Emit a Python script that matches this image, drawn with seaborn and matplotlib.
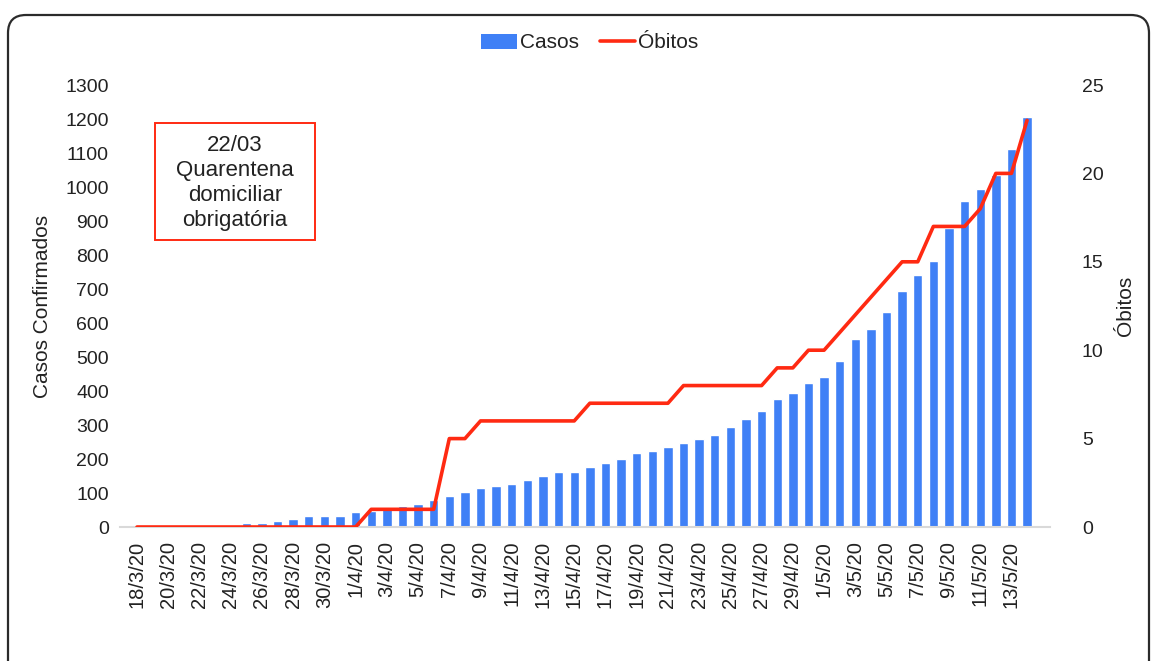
import numpy as np
import pandas as pd
import matplotlib
matplotlib.use("Agg")
import matplotlib.pyplot as plt
import matplotlib.transforms as mtransforms
import seaborn as sns
from matplotlib.patches import FancyBboxPatch, Rectangle, Patch
from matplotlib.lines import Line2D

datas = [
    "18/3/20", "19/3/20", "20/3/20", "21/3/20", "22/3/20", "23/3/20", "24/3/20",
    "25/3/20", "26/3/20", "27/3/20", "28/3/20", "29/3/20", "30/3/20", "31/3/20",
    "1/4/20", "2/4/20", "3/4/20", "4/4/20", "5/4/20", "6/4/20", "7/4/20", "8/4/20",
    "9/4/20", "10/4/20", "11/4/20", "12/4/20", "13/4/20", "14/4/20", "15/4/20",
    "16/4/20", "17/4/20", "18/4/20", "19/4/20", "20/4/20", "21/4/20", "22/4/20",
    "23/4/20", "24/4/20", "25/4/20", "26/4/20", "27/4/20", "28/4/20", "29/4/20",
    "30/4/20", "1/5/20", "2/5/20", "3/5/20", "4/5/20", "5/5/20", "6/5/20",
    "7/5/20", "8/5/20", "9/5/20", "10/5/20", "11/5/20", "12/5/20", "13/5/20", "14/5/20",
]

casos = [
    1, 1, 1, 2, 2, 3, 5,
    12, 13, 19, 25, 31, 31, 31, 43,
    47, 52, 61, 67, 78, 90, 102,
    114, 120, 126, 137, 149, 161, 161,
    177, 189, 200, 219, 225, 235, 247,
    259, 272, 294, 318, 341, 376, 394,
    425, 442, 489, 554, 583, 631, 695, 742,
    783, 879, 960, 995, 1036, 1113, 1207,
]

obitos = [
    0, 0, 0, 0, 0, 0, 0, 0, 0, 0, 0, 0, 0, 0, 0,
    1, 1, 1, 1, 1,
    5, 5,
    6, 6, 6, 6, 6, 6, 6,
    7, 7, 7, 7, 7, 7,
    8, 8, 8, 8, 8, 8,
    9, 9,
    10, 10,
    11, 12, 13, 14, 15, 15, 17, 17, 17, 18, 20, 20, 23,
]

rotulos_x = datas[::2]
ticks_casos = list(range(0, 1301, 100))
ticks_obitos = list(range(0, 26, 5))
nota = "22/03\nQuarentena\ndomiciliar\nobrigatória"

AZUL = "#3F80F6"
VERMELHO = "#FF2A12"
TEXTO = "#222222"

sns.set_theme(style="white")
plt.rcParams["font.family"] = ["Liberation Sans", "DejaVu Sans"]

W, H = 1153, 661
fig = plt.figure(figsize=(W / 100, H / 100), dpi=100)
fig.patch.set_facecolor("white")

# outer rounded frame (screenshot crop)
frame = FancyBboxPatch((8, -40), 1141, H - 15 + 40,
                       boxstyle="round,pad=0,rounding_size=18",
                       transform=mtransforms.IdentityTransform(),
                       facecolor="none", edgecolor="#2b2b2b", linewidth=1.6)
fig.add_artist(frame)

left_px, right_px, bot_px, top_px = 120, 1050, 527, 85
ax = fig.add_axes([left_px / W, (H - bot_px) / H, (right_px - left_px) / W, (bot_px - top_px) / H])

df = pd.DataFrame({"data": datas, "casos": casos, "obitos": obitos, "pos": np.arange(len(datas))})
sns.barplot(data=df, x="data", y="casos", color=AZUL, saturation=1, width=0.6, ax=ax)

ax2 = ax.twinx()
sns.lineplot(data=df, x="pos", y="obitos", color=VERMELHO, linewidth=2.6, ax=ax2)

ax.set_ylim(0, 1300)
ax.set_yticks(ticks_casos)
ax2.set_ylim(0, 25)
ax2.set_yticks(ticks_obitos)

ax.set_xticks(range(0, len(datas), 2))
ax.set_xticklabels(rotulos_x, rotation=90, fontsize=14.5, color=TEXTO)
ax.set_xlim(-1.09, 58.47)
ax2.set_xlim(-1.09, 58.47)

ax.tick_params(axis="x", length=0, pad=10)
ax.tick_params(axis="y", length=0, pad=8, labelsize=14, labelcolor=TEXTO)
ax2.tick_params(axis="y", length=0, pad=23, labelsize=14, labelcolor=TEXTO)
for lab in ax2.get_yticklabels():
    lab.set_horizontalalignment("left")

ax.set_xlabel("")
ax.set_ylabel("")
ax2.set_xlabel("")
ax2.set_ylabel("")
ax.grid(False)
ax2.grid(False)
for s in ["top", "left", "right"]:
    ax.spines[s].set_visible(False)
for s in ax2.spines.values():
    s.set_visible(False)
ax.spines["bottom"].set_color("#d9d9d9")
ax.spines["bottom"].set_linewidth(1.5)

fig.text(43 / W, 1 - 306 / H, "Casos Confirmados", rotation=90, ha="center", va="center",
         fontsize=15, color=TEXTO)
fig.text(1125 / W, 1 - 306 / H, "Óbitos", rotation=90, ha="center", va="center",
         fontsize=15, color=TEXTO)

# annotation box
rect = Rectangle((155 / W, 1 - 240 / H), 160 / W, 117 / H, transform=fig.transFigure,
                 facecolor="white", edgecolor=VERMELHO, linewidth=1.4)
fig.add_artist(rect)
fig.text(235 / W, 1 - 183 / H, nota, ha="center", va="center", fontsize=16,
         linespacing=1.23, color=TEXTO, multialignment="center")

handles = [Patch(facecolor=AZUL, edgecolor="none"),
           Line2D([0], [0], color=VERMELHO, linewidth=2.6)]
fig.legend(handles, ["Casos", "Óbitos"], loc="center", bbox_to_anchor=(590 / W, 1 - 43 / H),
           ncol=2, frameon=False, fontsize=15, handlelength=1.7, handleheight=0.7,
           handletextpad=0.15, columnspacing=1.0, labelcolor=TEXTO)

fig.savefig("out.png", dpi=100, facecolor="white")
